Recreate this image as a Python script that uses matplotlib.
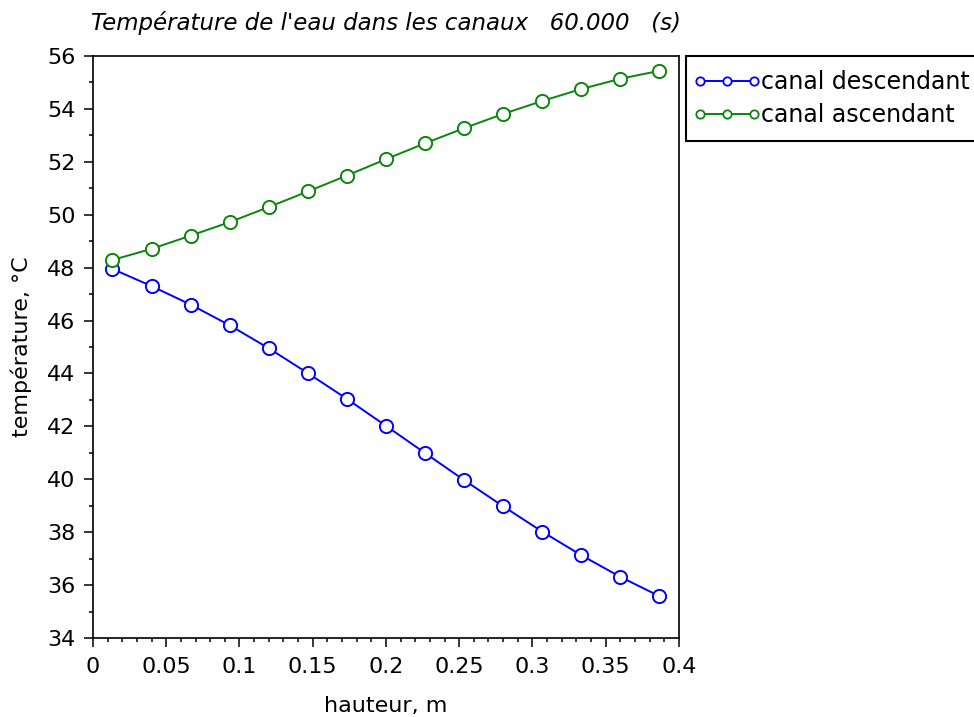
import numpy as np
import matplotlib
matplotlib.use("Agg")
import matplotlib.pyplot as plt
from matplotlib.lines import Line2D
from matplotlib.legend_handler import HandlerLine2D
from matplotlib.ticker import MultipleLocator

# hauteur (m) des points de calcul
hauteur = [0.0133, 0.0400, 0.0667, 0.0933, 0.1200, 0.1467, 0.1733, 0.2000,
           0.2267, 0.2533, 0.2800, 0.3067, 0.3333, 0.3600, 0.3867]
# temperatures (degC)
t_descendant = [47.95, 47.30, 46.60, 45.82, 44.95, 44.01, 43.04, 42.02,
                40.99, 39.97, 38.98, 38.02, 37.13, 36.31, 35.58]
t_ascendant = [48.29, 48.71, 49.21, 49.72, 50.29, 50.88, 51.48, 52.10,
               52.70, 53.27, 53.81, 54.30, 54.75, 55.14, 55.44]
noms = ['canal descendant', 'canal ascendant']
couleurs = ['#0000ff', '#0a860a']
xlabels = ['0', '0.05', '0.1', '0.15', '0.2', '0.25', '0.3', '0.35', '0.4']

plt.rcParams['font.family'] = 'DejaVu Sans'

fig = plt.figure(figsize=(9.74, 7.17), dpi=100)
ax = fig.add_axes([0.0955, 0.1102, 0.6015, 0.8117])

for y, c in zip([t_descendant, t_ascendant], couleurs):
    ax.plot(hauteur, y, color=c, lw=1.4, marker='o', ms=9.5,
            mfc='white', mec=c, mew=1.4)

ax.set_xlim(0, 0.4)
ax.set_ylim(34, 56)
ax.xaxis.set_minor_locator(MultipleLocator(0.01))
ax.yaxis.set_major_locator(MultipleLocator(2))
ax.yaxis.set_minor_locator(MultipleLocator(1))
ax.set_xticks(np.arange(0, 0.41, 0.05))
ax.set_xticklabels(xlabels)
ax.tick_params(which='major', direction='out', length=6.5, width=1.1, labelsize=16)
ax.tick_params(axis='y', which='major', pad=6)
ax.tick_params(axis='x', which='major', pad=7)
ax.tick_params(which='minor', direction='out', length=3.2, width=1.1)
for s in ax.spines.values():
    s.set_linewidth(1.2)

ax.set_xlabel('hauteur, m', fontsize=16, labelpad=14)
ax.set_ylabel('température, °C', fontsize=16, labelpad=11)
ax.set_title("Température de l'eau dans les canaux   60.000   (s)",
             fontsize=16.5, style='italic', pad=19)

handles = [Line2D([0], [0], color=c, lw=1.4, marker='o', ms=6,
                  mfc='white', mec=c, mew=1.3) for c in couleurs]
leg = ax.legend(handles, noms, loc='upper left', bbox_to_anchor=(1.012, 1.0),
                borderaxespad=0, numpoints=3, handlelength=2.3,
                handletextpad=0.3, fontsize=17,
                fancybox=False, edgecolor='black', framealpha=1,
                borderpad=0.6, labelspacing=0.38,
                handler_map={Line2D: HandlerLine2D(marker_pad=0)})
leg.get_frame().set_linewidth(1.5)

fig.savefig('out.png', dpi=100)
